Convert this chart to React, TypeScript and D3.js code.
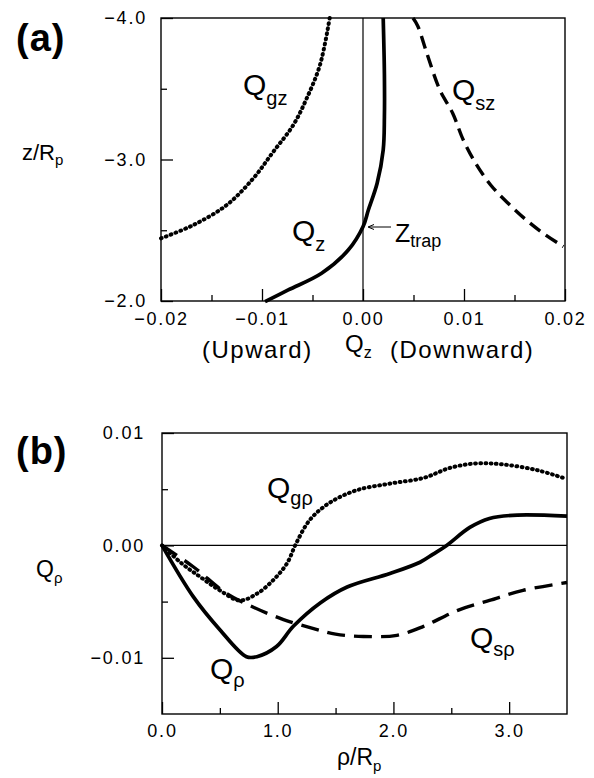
import React, { useEffect, useRef } from 'react';
import * as d3 from 'd3';

// panel (a): z/Rp against Qz
const zGz = [-2.443, -2.537, -2.678, -2.867, -3.055, -3.244, -3.433, -3.668, -4.0];
const qGz = [-0.02, -0.0168, -0.0135, -0.01086, -0.00888, -0.0069, -0.00557, -0.00426, -0.0033];
const zSz = [-4.0, -3.944, -3.74, -3.49, -3.327, -3.138, -2.973, -2.82, -2.7, -2.58, -2.486, -2.384];
const qSz = [0.00495, 0.00542, 0.00637, 0.00762, 0.00888, 0.00993, 0.01116, 0.01264, 0.01423, 0.01604, 0.0177, 0.01984];
const zZ = [-4.0, -3.6, -3.3, -3.067, -2.832, -2.643, -2.525, -2.36, -2.196, -2.078, -1.995];
const qZ = [0.002, 0.00212, 0.00212, 0.002, 0.0014, 0.00053, 0.0, -0.00146, -0.0041, -0.0074, -0.0097];

// panel (b): Q rho against rho/Rp
const rhoR = [0, 0.27, 0.5, 0.73, 0.82, 0.99, 1.135, 1.37, 1.6, 1.97, 2.23, 2.34, 2.46, 2.66, 2.83, 3.07, 3.5];
const qR = [0, -0.00456, -0.0075, -0.0099, -0.0099, -0.009, -0.0072, -0.0051, -0.0037, -0.0025, -0.0015, -0.0008, 0, 0.0016, 0.0024, 0.0027, 0.0026];
const rhoG = [0, 0.17, 0.33, 0.5, 0.67, 0.82, 0.96, 1.08, 1.16, 1.28, 1.45, 1.68, 1.97, 2.26, 2.49, 2.72, 2.95, 3.24, 3.47];
const qG = [0, -0.0016, -0.0028, -0.004, -0.0049, -0.0043, -0.0031, -0.0016, 0.0002, 0.0023, 0.0038, 0.0049, 0.0055, 0.006, 0.0069, 0.0073, 0.0072, 0.0067, 0.006];
const rhoS = [0, 0.27, 0.56, 0.79, 1.05, 1.31, 1.5, 1.74, 2.03, 2.26, 2.55, 2.83, 3.12, 3.5];
const qS = [0, -0.0019, -0.0043, -0.0055, -0.0066, -0.0074, -0.0079, -0.0081, -0.008, -0.0072, -0.0058, -0.0049, -0.004, -0.0033];

const aXMajor = [-0.02, -0.01, 0.0, 0.01, 0.02];
const aXMinor = [-0.015, -0.005, 0.005, 0.015];
const aYMajor = [-4.0, -3.0, -2.0];
const aYMinor = [-3.5, -2.5];
const bXMajor = [0, 1, 2, 3];
const bXMinor = [0.5, 1.5, 2.5];
const bYMajor = [0.01, 0.0, -0.01];
const bYMinor = [0.005, -0.005];

const FONT = '"Liberation Sans", Arial, Helvetica, sans-serif';
const DOTS = '0.8 4.4';

export default function App() {
  const ref = useRef<SVGSVGElement>(null);

  useEffect(() => {
    const svg = d3.select(ref.current);
    svg.selectAll('*').remove();
    svg.attr('font-family', FONT);

    const axisStyle = (g, labels) => {
      g.select('.domain').remove();
      g.selectAll('line').attr('stroke', '#000').attr('stroke-width', 1.3);
      g.selectAll('text').attr('font-size', 18).attr('fill', '#000').attr('letter-spacing', 1.8);
      if (!labels) g.selectAll('text').remove();
    };

    const label = (x, y, main, sub, size, subSize, subDy) => {
      const t = svg.append('text').attr('x', x).attr('y', y).attr('font-size', size);
      t.append('tspan').text(main);
      if (sub) t.append('tspan').attr('font-size', subSize).attr('dy', subDy).text(sub);
      return t;
    };

    const curve = (pts, dash, w) => {
      svg.append('path')
        .attr('d', d3.line().curve(d3.curveCatmullRom.alpha(0.5))(pts))
        .attr('fill', 'none').attr('stroke', '#000').attr('stroke-width', w)
        .attr('stroke-linecap', dash === DOTS ? 'round' : 'butt')
        .attr('stroke-dasharray', dash);
    };

    // ---------- panel (a) ----------
    const ax = d3.scaleLinear().domain([-0.02, 0.02]).range([161, 565]);
    const ay = d3.scaleLinear().domain([-4.0, -2.0]).range([18, 301]);

    svg.append('g').attr('transform', `translate(0,${ay(-2)})`)
      .call(d3.axisBottom(ax).tickValues(aXMajor).tickSize(-12).tickPadding(11).tickFormat(d3.format('.2f')))
      .call(g => axisStyle(g, true));
    svg.append('g').attr('transform', `translate(0,${ay(-2)})`)
      .call(d3.axisBottom(ax).tickValues(aXMinor).tickSize(-6))
      .call(g => axisStyle(g, false));
    svg.append('g').attr('transform', `translate(${ax(-0.02)},0)`)
      .call(d3.axisLeft(ay).tickValues(aYMajor).tickSize(-12).tickPadding(14).tickFormat(d3.format('.1f')))
      .call(g => axisStyle(g, true));
    svg.append('g').attr('transform', `translate(${ax(-0.02)},0)`)
      .call(d3.axisLeft(ay).tickValues(aYMinor).tickSize(-6))
      .call(g => axisStyle(g, false));

    svg.append('rect').attr('x', ax(-0.02)).attr('y', ay(-4)).attr('width', ax(0.02) - ax(-0.02))
      .attr('height', ay(-2) - ay(-4)).attr('fill', 'none').attr('stroke', '#000').attr('stroke-width', 1.4);
    svg.append('line').attr('x1', ax(0)).attr('x2', ax(0)).attr('y1', ay(-4)).attr('y2', ay(-2))
      .attr('stroke', '#000').attr('stroke-width', 1.2);

    curve(zGz.map((z, i) => [ax(qGz[i]), ay(z)]), DOTS, 4);
    curve(zSz.map((z, i) => [ax(qSz[i]), ay(z)]), '13 7', 3.4);
    curve(zZ.map((z, i) => [ax(qZ[i]), ay(z)]), null, 3.7);

    label(16, 51, '(a)', null, 38, 0, 0).attr('font-weight', 'bold').attr('letter-spacing', 1);
    label(22, 160, 'z/R', 'p', 22, 15, 5);
    label(243, 95, 'Q', 'gz', 30, 20, 10);
    label(452, 100, 'Q', 'sz', 30, 20, 10);
    label(292, 241, 'Q', 'z', 30, 20, 10);
    label(395, 242, 'Z', 'trap', 25, 18, 5);
    svg.append('line').attr('x1', 369).attr('x2', 391).attr('y1', 227).attr('y2', 227)
      .attr('stroke', '#000').attr('stroke-width', 1);
    svg.append('path').attr('d', 'M374,224.5 L368,227 L374,229.5').attr('fill', 'none')
      .attr('stroke', '#000').attr('stroke-width', 1);
    label(202, 358, '(Upward)', null, 24, 0, 0).attr('letter-spacing', 1.5);
    label(345, 352, 'Q', 'z', 24, 16, 6);
    label(390, 358, '(Downward)', null, 24, 0, 0).attr('letter-spacing', 1.5);

    // ---------- panel (b) ----------
    const bx = d3.scaleLinear().domain([0, 3.5]).range([162, 567]);
    const by = d3.scaleLinear().domain([-0.015, 0.01]).range([714, 433]);

    svg.append('g').attr('transform', `translate(0,${by(-0.015)})`)
      .call(d3.axisBottom(bx).tickValues(bXMajor).tickSize(-12).tickPadding(10).tickFormat(d3.format('.1f')))
      .call(g => axisStyle(g, true));
    svg.append('g').attr('transform', `translate(0,${by(-0.015)})`)
      .call(d3.axisBottom(bx).tickValues(bXMinor).tickSize(-6))
      .call(g => axisStyle(g, false));
    svg.append('g').attr('transform', `translate(${bx(0)},0)`)
      .call(d3.axisLeft(by).tickValues(bYMajor).tickSize(-12).tickPadding(17).tickFormat(d3.format('.2f')))
      .call(g => axisStyle(g, true));
    svg.append('g').attr('transform', `translate(${bx(0)},0)`)
      .call(d3.axisLeft(by).tickValues(bYMinor).tickSize(-6))
      .call(g => axisStyle(g, false));

    svg.append('rect').attr('x', bx(0)).attr('y', by(0.01)).attr('width', bx(3.5) - bx(0))
      .attr('height', by(-0.015) - by(0.01)).attr('fill', 'none').attr('stroke', '#000').attr('stroke-width', 1.4);
    svg.append('line').attr('x1', bx(0)).attr('x2', bx(3.5)).attr('y1', by(0)).attr('y2', by(0))
      .attr('stroke', '#000').attr('stroke-width', 1.2);

    curve(rhoS.map((r, i) => [bx(r), by(qS[i])]), '18 9', 3.4);
    curve(rhoG.map((r, i) => [bx(r), by(qG[i])]), DOTS, 4);
    curve(rhoR.map((r, i) => [bx(r), by(qR[i])]), null, 3.7);

    label(16, 464, '(b)', null, 38, 0, 0).attr('font-weight', 'bold').attr('letter-spacing', 1);
    label(36, 577, 'Q', 'ρ', 23, 15, 6);
    label(267, 498, 'Q', 'gρ', 30, 20, 7);
    label(210, 679, 'Q', 'ρ', 30, 20, 8);
    label(470, 648, 'Q', 'sρ', 30, 20, 8);
    label(337, 765, 'ρ/R', 'p', 23, 15, 6);
  }, []);

  return (
    <svg ref={ref} width={594} height={778}
      style={{ position: 'absolute', left: 0, top: 0, background: '#fff' }} />
  );
}
